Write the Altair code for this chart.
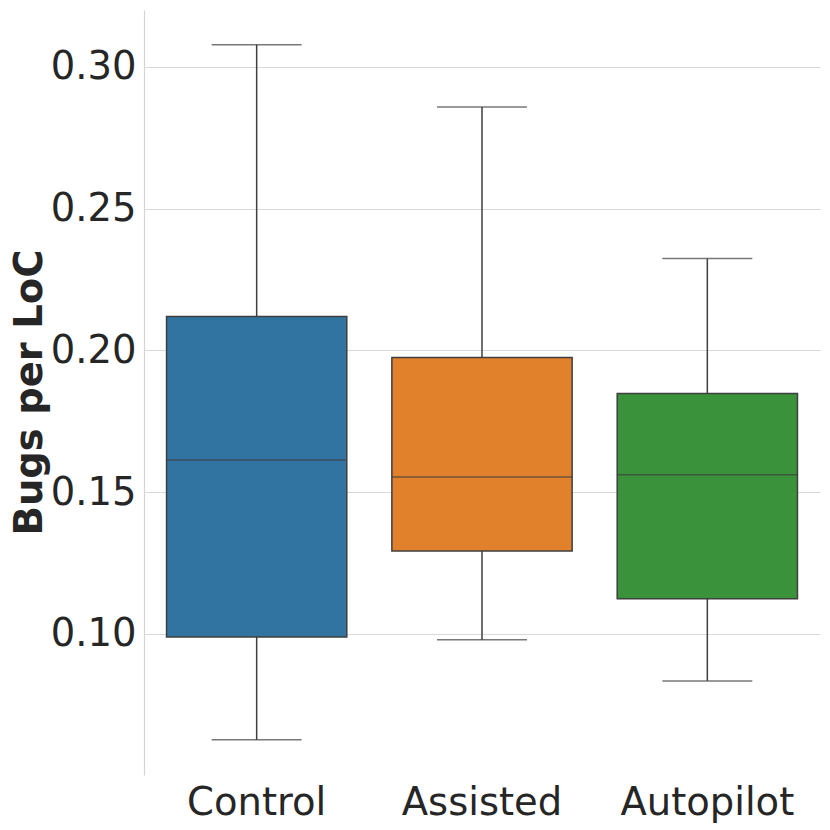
import altair as alt
import pandas as pd

categories = ["Control", "Assisted", "Autopilot"]
whisker_low = [0.0626, 0.0979, 0.0834]
q1 = [0.0989, 0.1292, 0.1124]
median = [0.1613, 0.1553, 0.1561]
q3 = [0.2120, 0.1975, 0.1848]
whisker_high = [0.3078, 0.2859, 0.2324]
colors = ["#3274a1", "#e1812c", "#3a923a"]

df = pd.DataFrame({
    "group": categories,
    "lo": whisker_low,
    "q1": q1,
    "med": median,
    "q3": q3,
    "hi": whisker_high,
})

FONT = "DejaVu Sans"
EDGE = "#3f3f3f"
FS = 38.5

xenc = alt.X("group:N", sort=categories,
             scale=alt.Scale(paddingInner=0, paddingOuter=0),
             axis=alt.Axis(title=None, labelAngle=0, labelFontSize=FS, labelFont=FONT,
                           labelColor="#262626", ticks=False, domain=False, labelPadding=9,
                           grid=False))
yscale = alt.Scale(domain=[0.0502, 0.3201], nice=False, zero=False)

base = alt.Chart(df)

whisk_up = base.mark_rule(color=EDGE, strokeWidth=1.5).encode(
    x=xenc,
    y=alt.Y("q3:Q", scale=yscale,
            axis=alt.Axis(title="Bugs per LoC", values=[0.10, 0.15, 0.20, 0.25, 0.30],
                          format=".2f", labelFontSize=FS, labelFont=FONT, labelColor="#262626",
                          ticks=False, labelPadding=8, domainColor="#d4d4d4", domainWidth=1.2,
                          gridColor="#d9d9d9", gridWidth=1,
                          titleFontSize=FS, titleFont=FONT, titleFontWeight="bold",
                          titleColor="#262626", titleAngle=-90, titleAlign="center",
                          titleBaseline="alphabetic", titleX=-103, titleY=382)),
    y2="hi:Q",
)
whisk_dn = base.mark_rule(color=EDGE, strokeWidth=1.5).encode(
    x=alt.X("group:N", sort=categories), y=alt.Y("lo:Q", scale=yscale), y2="q1:Q"
)
box = base.mark_bar(width=alt.RelativeBandSize(0.8), stroke=EDGE, strokeWidth=1.5).encode(
    x=alt.X("group:N", sort=categories),
    y=alt.Y("q1:Q", scale=yscale),
    y2="q3:Q",
    color=alt.Color("group:N", sort=categories,
                    scale=alt.Scale(domain=categories, range=colors), legend=None),
)
med = base.mark_tick(size=180, thickness=1.5, color=EDGE).encode(
    x=alt.X("group:N", sort=categories), y=alt.Y("med:Q", scale=yscale)
)
cap_hi = base.mark_tick(size=90, thickness=1.5, color=EDGE).encode(
    x=alt.X("group:N", sort=categories), y=alt.Y("hi:Q", scale=yscale)
)
cap_lo = base.mark_tick(size=90, thickness=1.5, color=EDGE).encode(
    x=alt.X("group:N", sort=categories), y=alt.Y("lo:Q", scale=yscale)
)

chart = alt.layer(whisk_up, whisk_dn, box, med, cap_hi, cap_lo).properties(
    width=676, height=765,
    autosize=alt.AutoSizeParams(type="none"),
    padding={"left": 136, "top": 2, "right": 2, "bottom": 50},
).configure_view(stroke=None).configure_axisX(grid=False)

chart.save("out.html", embed_options={"renderer": "svg", "actions": False})
